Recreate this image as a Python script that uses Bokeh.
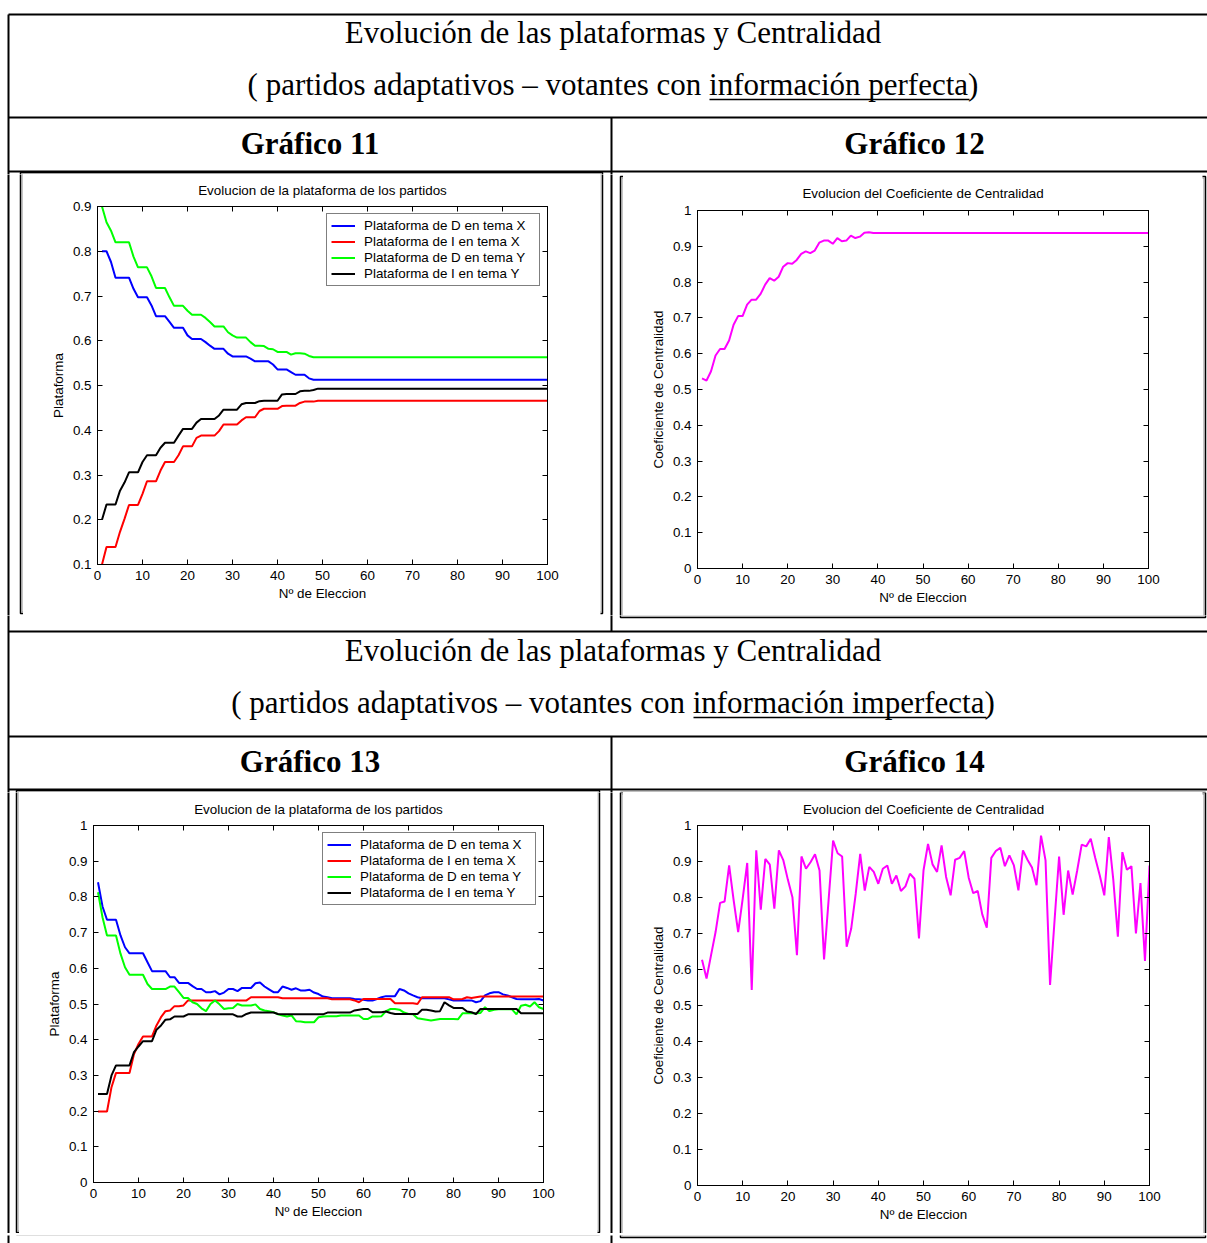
from bokeh.plotting import figure
from bokeh.models import Range1d, LinearAxis, FixedTicker
from bokeh.layouts import row, column
from bokeh.embed import file_html
from bokeh.resources import INLINE
from bokeh.core.properties import value

# ---------------------------------------------------------------- data
elections = list(range(1, 101))
x_ticks = [0, 10, 20, 30, 40, 50, 60, 70, 80, 90, 100]

plat_ticks = [0.1, 0.2, 0.3, 0.4, 0.5, 0.6, 0.7, 0.8, 0.9]
plat_tick_labels = ["0.1", "0.2", "0.3", "0.4", "0.5", "0.6", "0.7", "0.8", "0.9"]
unit_ticks = [0, 0.1, 0.2, 0.3, 0.4, 0.5, 0.6, 0.7, 0.8, 0.9, 1]
unit_tick_labels = ["0", "0.1", "0.2", "0.3", "0.4", "0.5", "0.6", "0.7", "0.8", "0.9", "1"]

series_labels = ["Plataforma de D en tema X", "Plataforma de I en tema X",
                 "Plataforma de D en tema Y", "Plataforma de I en tema Y"]
series_colors = ["#0000ff", "#ff0000", "#00ff00", "#000000"]

# Gráfico 11: perfect information, platforms
d_x_perfect = [
    0.800, 0.800, 0.776, 0.741, 0.741, 0.741, 0.741, 0.716, 0.697, 0.697,
    0.697, 0.679, 0.655, 0.655, 0.655, 0.642, 0.629, 0.629, 0.629, 0.612,
    0.604, 0.604, 0.604, 0.597, 0.589, 0.582, 0.582, 0.582, 0.571, 0.565,
    0.565, 0.565, 0.565, 0.560, 0.554, 0.554, 0.554, 0.554, 0.547, 0.536,
    0.536, 0.536, 0.530, 0.524, 0.524, 0.524, 0.516, 0.513, 0.513, 0.513,
    0.513, 0.513, 0.513, 0.513, 0.513, 0.513, 0.513, 0.513, 0.513, 0.513,
    0.513, 0.513, 0.513, 0.513, 0.513, 0.513, 0.513, 0.513, 0.513, 0.513,
    0.513, 0.513, 0.513, 0.513, 0.513, 0.513, 0.513, 0.513, 0.513, 0.513,
    0.513, 0.513, 0.513, 0.513, 0.513, 0.513, 0.513, 0.513, 0.513, 0.513,
    0.513, 0.513, 0.513, 0.513, 0.513, 0.513, 0.513, 0.513, 0.513, 0.513,
]
i_x_perfect = [
    0.100, 0.139, 0.139, 0.139, 0.173, 0.202, 0.233, 0.233, 0.233, 0.258,
    0.286, 0.286, 0.286, 0.310, 0.329, 0.329, 0.329, 0.344, 0.364, 0.364,
    0.364, 0.383, 0.388, 0.388, 0.388, 0.388, 0.398, 0.413, 0.413, 0.413,
    0.413, 0.422, 0.429, 0.429, 0.429, 0.443, 0.448, 0.448, 0.448, 0.448,
    0.454, 0.455, 0.455, 0.455, 0.461, 0.464, 0.464, 0.464, 0.466, 0.466,
    0.466, 0.466, 0.466, 0.466, 0.466, 0.466, 0.466, 0.466, 0.466, 0.466,
    0.466, 0.466, 0.466, 0.466, 0.466, 0.466, 0.466, 0.466, 0.466, 0.466,
    0.466, 0.466, 0.466, 0.466, 0.466, 0.466, 0.466, 0.466, 0.466, 0.466,
    0.466, 0.466, 0.466, 0.466, 0.466, 0.466, 0.466, 0.466, 0.466, 0.466,
    0.466, 0.466, 0.466, 0.466, 0.466, 0.466, 0.466, 0.466, 0.466, 0.466,
]
d_y_perfect = [
    0.900, 0.865, 0.846, 0.820, 0.820, 0.820, 0.820, 0.788, 0.764, 0.764,
    0.764, 0.744, 0.718, 0.718, 0.718, 0.697, 0.678, 0.678, 0.678, 0.667,
    0.658, 0.658, 0.658, 0.651, 0.642, 0.632, 0.632, 0.632, 0.619, 0.612,
    0.607, 0.607, 0.607, 0.597, 0.589, 0.589, 0.588, 0.582, 0.581, 0.575,
    0.575, 0.575, 0.569, 0.572, 0.572, 0.571, 0.566, 0.563, 0.563, 0.563,
    0.563, 0.563, 0.563, 0.563, 0.563, 0.563, 0.563, 0.563, 0.563, 0.563,
    0.563, 0.563, 0.563, 0.563, 0.563, 0.563, 0.563, 0.563, 0.563, 0.563,
    0.563, 0.563, 0.563, 0.563, 0.563, 0.563, 0.563, 0.563, 0.563, 0.563,
    0.563, 0.563, 0.563, 0.563, 0.563, 0.563, 0.563, 0.563, 0.563, 0.563,
    0.563, 0.563, 0.563, 0.563, 0.563, 0.563, 0.563, 0.563, 0.563, 0.563,
]
i_y_perfect = [
    0.200, 0.234, 0.234, 0.234, 0.265, 0.283, 0.306, 0.306, 0.306, 0.329,
    0.344, 0.344, 0.344, 0.361, 0.372, 0.372, 0.372, 0.388, 0.403, 0.403,
    0.403, 0.417, 0.425, 0.425, 0.425, 0.425, 0.433, 0.446, 0.446, 0.446,
    0.446, 0.458, 0.461, 0.461, 0.461, 0.465, 0.466, 0.466, 0.466, 0.466,
    0.480, 0.481, 0.481, 0.481, 0.487, 0.488, 0.488, 0.490, 0.493, 0.493,
    0.493, 0.493, 0.493, 0.493, 0.493, 0.493, 0.493, 0.493, 0.493, 0.493,
    0.493, 0.493, 0.493, 0.493, 0.493, 0.493, 0.493, 0.493, 0.493, 0.493,
    0.493, 0.493, 0.493, 0.493, 0.493, 0.493, 0.493, 0.493, 0.493, 0.493,
    0.493, 0.493, 0.493, 0.493, 0.493, 0.493, 0.493, 0.493, 0.493, 0.493,
    0.493, 0.493, 0.493, 0.493, 0.493, 0.493, 0.493, 0.493, 0.493, 0.493,
]

# Gráfico 12: perfect information, centrality coefficient
centrality_perfect = [
    0.531, 0.525, 0.551, 0.595, 0.613, 0.613, 0.637, 0.681, 0.705, 0.705,
    0.737, 0.751, 0.751, 0.767, 0.793, 0.811, 0.804, 0.815, 0.843, 0.853,
    0.851, 0.862, 0.879, 0.886, 0.881, 0.888, 0.910, 0.916, 0.916, 0.907,
    0.923, 0.914, 0.916, 0.930, 0.923, 0.927, 0.938, 0.939, 0.937, 0.937,
    0.937, 0.937, 0.937, 0.937, 0.937, 0.937, 0.937, 0.937, 0.937, 0.937,
    0.937, 0.937, 0.937, 0.937, 0.937, 0.937, 0.937, 0.937, 0.937, 0.937,
    0.937, 0.937, 0.937, 0.937, 0.937, 0.937, 0.937, 0.937, 0.937, 0.937,
    0.937, 0.937, 0.937, 0.937, 0.937, 0.937, 0.937, 0.937, 0.937, 0.937,
    0.937, 0.937, 0.937, 0.937, 0.937, 0.937, 0.937, 0.937, 0.937, 0.937,
    0.937, 0.937, 0.937, 0.937, 0.937, 0.937, 0.937, 0.937, 0.937, 0.937,
]

# Gráfico 13: imperfect information, platforms
d_x_imperfect = [
    0.841, 0.773, 0.736, 0.736, 0.736, 0.692, 0.659, 0.642, 0.642, 0.642,
    0.642, 0.617, 0.592, 0.592, 0.592, 0.592, 0.575, 0.575, 0.559, 0.559,
    0.559, 0.550, 0.542, 0.542, 0.533, 0.533, 0.536, 0.527, 0.532, 0.542,
    0.542, 0.536, 0.545, 0.545, 0.545, 0.558, 0.560, 0.549, 0.541, 0.533,
    0.533, 0.549, 0.545, 0.540, 0.544, 0.538, 0.538, 0.540, 0.532, 0.528,
    0.521, 0.519, 0.516, 0.516, 0.516, 0.516, 0.516, 0.514, 0.513, 0.512,
    0.510, 0.510, 0.514, 0.519, 0.522, 0.522, 0.522, 0.542, 0.538, 0.530,
    0.524, 0.519, 0.516, 0.516, 0.516, 0.516, 0.516, 0.516, 0.513, 0.510,
    0.510, 0.510, 0.510, 0.510, 0.505, 0.508, 0.524, 0.530, 0.533, 0.533,
    0.527, 0.524, 0.519, 0.514, 0.513, 0.513, 0.513, 0.513, 0.514, 0.510,
]
i_x_imperfect = [
    0.199, 0.199, 0.199, 0.267, 0.307, 0.307, 0.307, 0.307, 0.360, 0.388,
    0.409, 0.409, 0.409, 0.440, 0.463, 0.480, 0.482, 0.494, 0.494, 0.496,
    0.510, 0.510, 0.510, 0.510, 0.510, 0.510, 0.510, 0.510, 0.510, 0.510,
    0.510, 0.510, 0.510, 0.510, 0.519, 0.519, 0.519, 0.519, 0.519, 0.519,
    0.519, 0.516, 0.516, 0.516, 0.516, 0.516, 0.516, 0.516, 0.516, 0.516,
    0.516, 0.516, 0.513, 0.513, 0.513, 0.513, 0.513, 0.510, 0.505, 0.514,
    0.514, 0.514, 0.514, 0.514, 0.514, 0.514, 0.502, 0.502, 0.502, 0.502,
    0.502, 0.500, 0.519, 0.519, 0.519, 0.519, 0.519, 0.519, 0.519, 0.513,
    0.513, 0.514, 0.519, 0.517, 0.519, 0.521, 0.521, 0.521, 0.521, 0.521,
    0.521, 0.521, 0.521, 0.521, 0.521, 0.521, 0.521, 0.521, 0.521, 0.521,
]
d_y_imperfect = [
    0.813, 0.743, 0.692, 0.692, 0.692, 0.641, 0.603, 0.582, 0.582, 0.582,
    0.582, 0.556, 0.542, 0.542, 0.542, 0.542, 0.549, 0.549, 0.533, 0.517,
    0.517, 0.505, 0.500, 0.488, 0.480, 0.500, 0.510, 0.499, 0.486, 0.488,
    0.489, 0.500, 0.496, 0.496, 0.496, 0.499, 0.486, 0.482, 0.480, 0.477,
    0.471, 0.468, 0.465, 0.468, 0.452, 0.451, 0.449, 0.449, 0.449, 0.463,
    0.465, 0.466, 0.466, 0.466, 0.468, 0.468, 0.468, 0.468, 0.468, 0.458,
    0.458, 0.465, 0.465, 0.466, 0.480, 0.486, 0.486, 0.484, 0.476, 0.472,
    0.471, 0.460, 0.458, 0.456, 0.454, 0.456, 0.458, 0.458, 0.458, 0.458,
    0.457, 0.474, 0.474, 0.474, 0.474, 0.475, 0.491, 0.480, 0.484, 0.485,
    0.485, 0.485, 0.485, 0.471, 0.495, 0.498, 0.493, 0.505, 0.491, 0.486,
]
i_y_imperfect = [
    0.248, 0.248, 0.248, 0.300, 0.328, 0.328, 0.328, 0.328, 0.365, 0.381,
    0.396, 0.396, 0.396, 0.428, 0.440, 0.456, 0.457, 0.465, 0.465, 0.465,
    0.471, 0.471, 0.471, 0.471, 0.471, 0.471, 0.471, 0.471, 0.471, 0.471,
    0.471, 0.465, 0.465, 0.472, 0.476, 0.476, 0.476, 0.476, 0.476, 0.476,
    0.472, 0.471, 0.471, 0.471, 0.471, 0.471, 0.471, 0.471, 0.471, 0.471,
    0.471, 0.476, 0.476, 0.476, 0.476, 0.476, 0.476, 0.482, 0.484, 0.486,
    0.486, 0.477, 0.477, 0.477, 0.479, 0.475, 0.472, 0.472, 0.472, 0.472,
    0.472, 0.472, 0.484, 0.484, 0.482, 0.479, 0.480, 0.505, 0.496, 0.489,
    0.489, 0.489, 0.479, 0.477, 0.472, 0.486, 0.486, 0.486, 0.486, 0.486,
    0.486, 0.486, 0.486, 0.486, 0.474, 0.474, 0.474, 0.474, 0.474, 0.474,
]

# Gráfico 14: imperfect information, centrality coefficient
centrality_imperfect = [
    0.627, 0.575, 0.640, 0.704, 0.785, 0.789, 0.889, 0.792, 0.704, 0.797,
    0.896, 0.543, 0.931, 0.766, 0.907, 0.891, 0.769, 0.931, 0.903, 0.849,
    0.801, 0.640, 0.914, 0.880, 0.898, 0.920, 0.875, 0.628, 0.792, 0.958,
    0.923, 0.914, 0.663, 0.713, 0.810, 0.921, 0.819, 0.885, 0.871, 0.838,
    0.880, 0.889, 0.838, 0.861, 0.818, 0.831, 0.866, 0.852, 0.686, 0.875,
    0.949, 0.892, 0.871, 0.945, 0.857, 0.806, 0.905, 0.910, 0.929, 0.855,
    0.812, 0.818, 0.753, 0.716, 0.910, 0.929, 0.938, 0.887, 0.917, 0.889,
    0.820, 0.931, 0.905, 0.883, 0.834, 0.972, 0.903, 0.557, 0.737, 0.914,
    0.752, 0.875, 0.808, 0.875, 0.947, 0.942, 0.963, 0.910, 0.861, 0.806,
    0.968, 0.848, 0.691, 0.926, 0.877, 0.887, 0.700, 0.840, 0.624, 0.889,
]

header_title = "Evolución de las plataformas y Centralidad"
header_perfect = "( partidos adaptativos – votantes con información perfecta)"
header_imperfect = "( partidos adaptativos – votantes con información imperfecta)"
chart_names = ["Gráfico 11", "Gráfico 12", "Gráfico 13", "Gráfico 14"]
platform_title = "Evolucion de la plataforma de los partidos"
centrality_title = "Evolucion del Coeficiente de Centralidad"
x_title = "Nº de Eleccion"

# ---------------------------------------------------------------- page geometry
PAGE_W, PAGE_H = 1207, 1243
TABLE_LEFT = 8
H_RULES = [14, 117, 171, 631, 736, 789]
COL_X = 611
COL_SPANS = [(117, 631), (736, PAGE_H)]
# framed boxes around each embedded chart: left, right, top, bottom
CHART_BOXES = [(20, 602, 172, 613), (620, 1205, 176, 617),
               (16, 599, 790, 1232), (620, 1205, 792, 1235)]

SERIF = value("Liberation Serif")
SANS = "Liberation Sans"
CHART_FONT = "13.4px"


def canvas(x0, x1, y0, y1, texts=None, underlines=None):
    """A piece of the page drawn in page pixel coordinates (y grows downward)."""
    p = figure(width=x1 - x0, height=y1 - y0, x_range=Range1d(x0, x1),
               y_range=Range1d(y1, y0), output_backend="svg",
               toolbar_location=None, x_axis_type=None, y_axis_type=None,
               min_border=0)
    p.grid.visible = False
    p.outline_line_color = None
    p.background_fill_color = "white"
    p.border_fill_color = "white"

    n = len(H_RULES)
    p.segment(x0=[TABLE_LEFT] * n, y0=H_RULES, x1=[PAGE_W] * n, y1=H_RULES,
              line_color="black", line_width=2)
    p.segment(x0=[TABLE_LEFT], y0=[H_RULES[0]], x1=[TABLE_LEFT], y1=[PAGE_H],
              line_color="black", line_width=2)
    p.segment(x0=[COL_X, COL_X], y0=[s[0] for s in COL_SPANS],
              x1=[COL_X, COL_X], y1=[s[1] for s in COL_SPANS],
              line_color="black", line_width=2)
    for (l, r, t, b) in CHART_BOXES:
        p.quad(left=[l], right=[r], top=[t], bottom=[b], fill_color=None,
               line_color="black", line_width=1.5)
        p.quad(left=[l + 1.5], right=[r - 1.5], top=[t + 1.5], bottom=[b - 1.5],
               fill_color=None, line_color="#8c8c8c", line_width=1)

    for (xs, ys, labels, bold) in (texts or []):
        p.text(x=xs, y=ys, text=labels, text_font=SERIF,
               text_font_size=value("31px"), text_align="center",
               text_baseline="alphabetic", text_color="black",
               text_font_style="bold" if bold else "normal")
    for (ux0, ux1, uy) in (underlines or []):
        p.segment(x0=[ux0], y0=[uy], x1=[ux1], y1=[uy], line_color="black",
                  line_width=1.5)
    return p


def style_axis(ax, show_labels=True):
    ax.major_tick_in = 5
    ax.major_tick_out = 0
    ax.minor_tick_line_color = None
    ax.axis_line_color = "black"
    ax.major_tick_line_color = "black"
    ax.major_label_text_font = SANS
    ax.major_label_text_font_size = CHART_FONT
    ax.major_label_text_color = "black" if show_labels else None
    ax.axis_label_text_font = SANS
    ax.axis_label_text_font_size = CHART_FONT
    ax.axis_label_text_font_style = "normal"
    ax.axis_label_text_color = "black"


def chart(width, height, margins, y_bounds, y_ticks, y_labels, title, y_title,
          series, title_standoff):
    left, right, top, bottom = margins
    p = figure(width=width, height=height, x_range=Range1d(0, 100),
               y_range=Range1d(*y_bounds), output_backend="svg",
               toolbar_location=None,
               min_border_left=left, min_border_right=right,
               min_border_top=top, min_border_bottom=bottom)
    p.grid.visible = False
    p.outline_line_color = "black"
    p.outline_line_width = 1
    p.background_fill_color = "white"
    p.border_fill_color = "white"

    xa, ya = p.xaxis[0], p.yaxis[0]
    xa.ticker = FixedTicker(ticks=x_ticks)
    ya.ticker = FixedTicker(ticks=y_ticks)
    ya.major_label_overrides = dict(zip(y_ticks, y_labels))
    xa.axis_label = x_title
    ya.axis_label = y_title
    style_axis(xa)
    style_axis(ya)
    xa.major_label_standoff = 6
    xa.axis_label_standoff = 3
    ya.major_label_standoff = 6
    ya.axis_label_standoff = 4

    # tick-only axes on the top and right edges; the top one carries the title
    top_ax = LinearAxis(ticker=FixedTicker(ticks=x_ticks), major_label_standoff=0,
                        axis_label=title, axis_label_standoff=title_standoff)
    right_ax = LinearAxis(ticker=FixedTicker(ticks=y_ticks), major_label_standoff=0)
    style_axis(top_ax, show_labels=False)
    style_axis(right_ax, show_labels=False)
    p.add_layout(top_ax, "above")
    p.add_layout(right_ax, "right")

    for (values, color, label) in series:
        if label is None:
            p.line(x=elections, y=values, line_color=color, line_width=2)
        else:
            p.line(x=elections, y=values, line_color=color, line_width=2,
                   legend_label=label)

    if p.legend:
        lg = p.legend[0]
        lg.location = "top_right"
        lg.margin = 7
        lg.padding = 4
        lg.spacing = 1
        lg.label_height = 15
        lg.glyph_height = 15
        lg.glyph_width = 24
        lg.label_width = 171
        lg.label_standoff = 9
        lg.label_text_font = SANS
        lg.label_text_font_size = CHART_FONT
        lg.label_text_color = "black"
        lg.border_line_color = "black"
        lg.border_line_width = 1
        lg.background_fill_alpha = 1
    return p


platform_perfect = list(zip([d_x_perfect, i_x_perfect, d_y_perfect, i_y_perfect],
                            series_colors, series_labels))
platform_imperfect = list(zip([d_x_imperfect, i_x_imperfect, d_y_imperfect, i_y_imperfect],
                              series_colors, series_labels))

# chart rectangles on the page: x 23-600 / 623-1202, y per chart
g11 = chart(577, 437, (74, 53, 32, 47), (0.1, 0.9), plat_ticks, plat_tick_labels,
            platform_title, "Plataforma", platform_perfect, 9)
g12 = chart(579, 437, (74, 54, 32, 47), (0, 1), unit_ticks, unit_tick_labels,
            centrality_title, "Coeficiente de Centralidad",
            [(centrality_perfect, "#ff00ff", None)], 10)
g13 = chart(578, 438, (74, 54, 33, 48), (0, 1), unit_ticks, unit_tick_labels,
            platform_title, "Plataforma", platform_imperfect, 9)
g14 = chart(579, 439, (74, 53, 31, 48), (0, 1), unit_ticks, unit_tick_labels,
            centrality_title, "Coeficiente de Centralidad",
            [(centrality_imperfect, "#ff00ff", None)], 9)

top_band = canvas(0, PAGE_W, 0, 174,
                  texts=[([612.5, 612.5], [32, 84], [header_title, header_perfect], False),
                         ([309.5, 914], [143, 143], chart_names[:2], True)],
                  underlines=[(709, 969, 99)])
middle_band = canvas(0, PAGE_W, 615, 792,
                     texts=[([612.5, 612.5], [650, 702], [header_title, header_imperfect], False),
                            ([309.5, 914], [761, 761], chart_names[2:], True)],
                     underlines=[(693, 986, 717)])

upper_charts = row(
    canvas(0, 23, 174, 615),
    column(g11, canvas(23, 600, 611, 615), spacing=0),
    canvas(600, 623, 174, 615),
    column(canvas(623, 1202, 174, 178), g12, spacing=0),
    canvas(1202, PAGE_W, 174, 615),
    spacing=0,
)
lower_charts = row(
    canvas(0, 19, 792, 1233),
    column(g13, canvas(19, 597, 1230, 1233), spacing=0),
    canvas(597, 623, 792, 1233),
    column(canvas(623, 1202, 792, 794), g14, spacing=0),
    canvas(1202, PAGE_W, 792, 1233),
    spacing=0,
)

layout = column(top_band, upper_charts, middle_band, lower_charts,
                canvas(0, PAGE_W, 1233, PAGE_H), spacing=0)

open("out.html", "w").write(file_html(layout, INLINE, title="Evolución de las plataformas y Centralidad"))
